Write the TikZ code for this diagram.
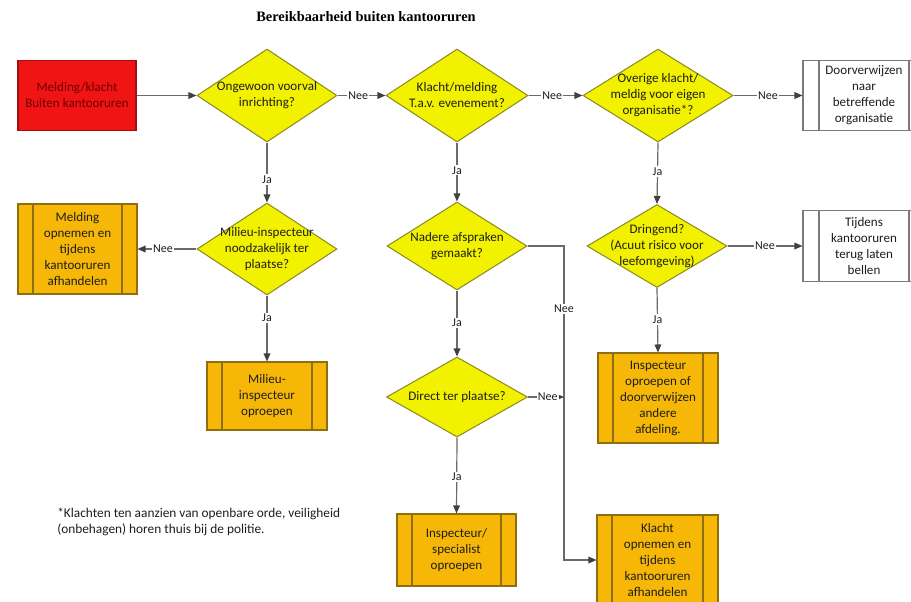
\documentclass[tikz,border=0pt]{standalone}
\usepackage{fontspec}
\setmainfont{Carlito}
\newfontfamily\titlefont{Liberation Serif}
\usetikzlibrary{shapes.geometric,arrows.meta}

\definecolor{redfill}{HTML}{F01414}
\definecolor{redborder}{HTML}{A01010}
\definecolor{redtext}{HTML}{6E0000}
\definecolor{yellowfill}{HTML}{F2F200}
\definecolor{yellowborder}{HTML}{8E8E22}
\definecolor{orangefill}{HTML}{F6B706}
\definecolor{orangeborder}{HTML}{8F6E12}
\definecolor{greyborder}{HTML}{7A7A7A}
\definecolor{linegrey}{HTML}{6A6A6A}
\definecolor{tipgrey}{HTML}{404040}
\definecolor{inktext}{HTML}{1E1E1E}

\begin{document}
\begin{tikzpicture}[x=0.75pt,y=-0.75pt,
  every node/.style={text=inktext},
  boxfont/.style={font=\fontsize{9.8}{12}\selectfont},
  size/.style 2 args={minimum width=#1*0.75pt,minimum height=#2*0.75pt},
  startbox/.style={rectangle,draw=redborder,fill=redfill,line width=0.8pt,
    align=center,inner sep=0pt,boxfont,text=redtext},
  decision/.style={diamond,draw=yellowborder,fill=yellowfill,line width=0.8pt,
    inner sep=0pt},
  dtext/.style={align=center,boxfont,text=inktext,inner sep=0pt},
  orangebox/.style={rectangle,draw=orangeborder,fill=orangefill,line width=0.8pt,
    align=center,inner sep=0pt,boxfont,
    path picture={\draw[orangeborder,line width=0.8pt]
      ([xshift=11.25pt]path picture bounding box.north west) --
      ([xshift=11.25pt]path picture bounding box.south west)
      ([xshift=-11.25pt]path picture bounding box.north east) --
      ([xshift=-11.25pt]path picture bounding box.south east);}},
  whitebox/.style={rectangle,draw=greyborder,fill=white,line width=0.8pt,
    align=center,inner sep=0pt,boxfont,
    path picture={\draw[greyborder,line width=0.8pt]
      ([xshift=12pt]path picture bounding box.north west) --
      ([xshift=12pt]path picture bounding box.south west)
      ([xshift=-12pt]path picture bounding box.north east) --
      ([xshift=-12pt]path picture bounding box.south east);}},
  conn/.style={draw=linegrey,line width=0.9pt,
    -{Triangle[length=6pt,width=5pt,color=tipgrey]}},
  lbl/.style={fill=white,inner sep=1pt,font=\fontsize{9}{10}\selectfont,text=inktext}
]
\useasboundingbox (0,0) rectangle (911,601);
\clip (0,0) rectangle (911,601);

% title
\node[font=\titlefont\bfseries\fontsize{10.8}{12}\selectfont,text=black] (title) at (366,17)
  {Bereikbaarheid buiten kantooruren};

% first row
\node[startbox,size={118}{70}] (start) at (77,95.5) {Melding/klacht\\Buiten kantooruren};
\node[decision,size={140}{93},label={[dtext]center:Ongewoon voorval\\inrichting?}] (d1) at (267,95.5) {};
\node[decision,size={142}{93},label={[dtext]center:Klacht/melding\\T.a.v. evenement?}] (d2) at (457,95.5) {};
\node[decision,size={150}{93},label={[dtext]center:Overige klacht/\\meldig voor eigen\\organisatie*?}] (d3) at (658,95.5) {};
\node[whitebox,size={122}{70}] (b1) at (864,95.5) {Doorverwijzen\\naar\\betreffende\\organisatie};

% second row
\node[decision,size={140}{92},label={[dtext]center:Milieu-inspecteur\\noodzakelijk ter\\plaatse?}] (d4) at (267,249) {};
\node[orangebox,size={119}{90}] (b2) at (77.5,249) {Melding\\opnemen en\\tijdens\\kantooruren\\afhandelen};
\node[decision,size={140}{88},label={[dtext]center:Nadere afspraken\\gemaakt?}] (d5) at (457,246) {};
\node[decision,size={140}{83},label={[dtext]center:Dringend?\\(Acuut risico voor\\leefomgeving)}] (d7) at (657,246) {};
\node[whitebox,size={122}{71}] (b5) at (864,246) {Tijdens\\kantooruren\\terug laten\\bellen};

% third row
\node[orangebox,size={120}{68}] (b3) at (267,396) {Milieu-\\inspecteur\\oproepen};
\node[decision,size={141}{80},label={[dtext]center:Direct ter plaatse?}] (d6) at (457,397) {};
\node[orangebox,size={120}{90}] (b6) at (658,398) {Inspecteur\\oproepen of\\doorverwijzen\\andere\\afdeling.};

% bottom row
\node[orangebox,size={119}{72}] (b4) at (456.5,550) {Inspecteur/\\specialist\\oproepen};
\node[orangebox,size={121}{90}] (b7) at (657.5,560) {Klacht\\opnemen en\\tijdens\\kantooruren\\afhandelen};

% footnote
\node[anchor=west,align=left,inner sep=0pt,font=\fontsize{10}{12}\selectfont] (note) at (57,522)
  {*Klachten ten aanzien van openbare orde, veiligheid\\(onbehagen) horen thuis bij de politie.};

% connectors
\draw[conn] (start.east) -- (d1.west);
\draw[conn] (d1.east) -- node[lbl,pos=0.43] {Nee} (d2.west);
\draw[conn] (d2.east) -- node[lbl,pos=0.44] {Nee} (d3.west);
\draw[conn] (d3.east) -- node[lbl,pos=0.5] {Nee} (b1.west);

\draw[conn] (d1.south) -- node[lbl,pos=0.62] {Ja} (d4.north);
\draw[conn] (d4.west) -- node[lbl,pos=0.57] {Nee} (b2.east);
\draw[conn] (d4.south) -- node[lbl,pos=0.34] {Ja} (b3.north);

\draw[conn] (d2.south) -- node[lbl,pos=0.47] {Ja} (d5.north);
\draw[conn] (d5.south) -- node[lbl,pos=0.49] {Ja} (d6.north);
\draw[conn] (d6.south) -- node[lbl,pos=0.52] {Ja} (b4.north);

\coordinate (t1) at (564,246);
\coordinate (t2) at (564,560);
\coordinate (t3) at (564,397);
\draw[conn] (d5.east) -- (t1) -- node[lbl,pos=0.2] {Nee} (t2) -- (b7.west);
\draw[conn] (d6.east) -- node[lbl,pos=0.55] {Nee} (t3);

\draw[conn] (d3.south) -- node[lbl,pos=0.47] {Ja} (d7.north);
\draw[conn] (d7.east) -- node[lbl,pos=0.5] {Nee} (b5.west);
\draw[conn] (d7.south) -- node[lbl,pos=0.49] {Ja} (b6.north);
\end{tikzpicture}
\end{document}
